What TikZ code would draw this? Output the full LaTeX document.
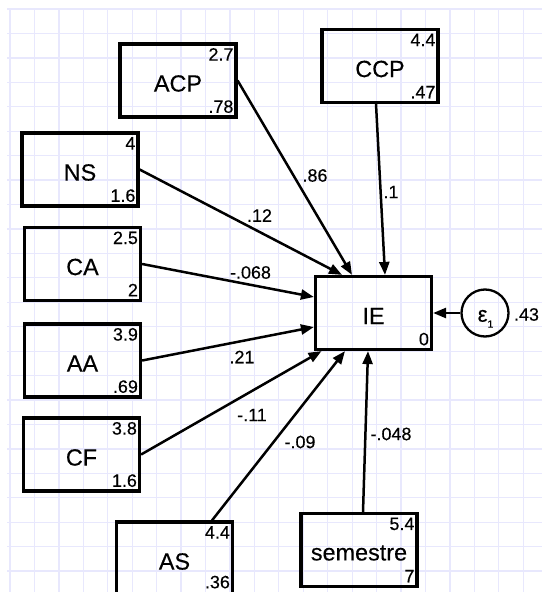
\documentclass[tikz,border=0pt]{standalone}
\usepackage{fontspec}
\setmainfont{Liberation Sans}[FakeBold=0.3]
\usetikzlibrary{arrows.meta,calc}
\definecolor{gridc}{RGB}{232,232,253}
\tikzset{
  gridline/.style={draw=gridc, line width=1.3bp},
  varbox/.style={draw, line width=3.2bp, minimum width=116bp, minimum height=73bp, inner sep=0},
  pathar/.style={line width=2.5bp, -{Triangle[length=13bp,width=10bp]}},
  num/.style={font=\fontsize{18}{18}\selectfont, inner sep=0},
  lab/.style={font=\fontsize{23.5}{23.5}\selectfont, inner sep=0},
}
\newcommand{\mybox}[6]{%
  \node[varbox] (#1) at (#2) {};
  \node[lab] (#1-l) at ([yshift=-3bp]#1.center) {#3};
  \node[num, anchor=east] (#1-t) at ([xshift=-4bp,yshift=-12bp]#1.north east) {#4};
  \node[num, anchor=east] (#1-b) at ([xshift=-4bp,yshift=#6]#1.south east) {#5};
}
\begin{document}
\begin{tikzpicture}[x=1bp,y=-1bp]
\clip (0,0) rectangle (542,592);
\useasboundingbox (0,0) rectangle (542,592);
% grid
\foreach \k in {0,...,21} \draw[gridline] ({10+24.44*\k},8) -- ({10+24.44*\k},592);
\foreach \k in {0,...,23} \draw[gridline] (7,{9+24.44*\k}) -- (542,{9+24.44*\k});
% boxes
\mybox{ACP}{178,80.5}{ACP}{2.7}{.78}{12bp}
\mybox{CCP}{380,66}{CCP}{4.4}{.47}{12bp}
\mybox{NS}{80,169.5}{NS}{4}{1.6}{12bp}
\mybox{CA}{82.5,264}{CA}{2.5}{2}{12bp}
\mybox{AA}{82.5,360.5}{AA}{3.9}{.69}{12bp}
\mybox{CF}{81.5,454.5}{CF}{3.8}{1.6}{12bp}
\mybox{AS}{174.5,558.5}{AS}{4.4}{.36}{14.5bp}
\mybox{sem}{359,550}{semestre}{5.4}{7}{12bp}
\node[varbox] (IE) at (373.5,313) {};
\node[lab] (IE-l) at ([yshift=-3bp]IE.center) {IE};
\node[num, anchor=east] (IE-b) at ([xshift=-4bp,yshift=12bp]IE.south east) {0};
% error term
\node[draw, circle, line width=2.3bp, minimum size=47bp, inner sep=0] (eps) at (485,313) {};
\node[inner sep=0, anchor=base west] (eps-l) at (477.5,321.7) {\fontsize{22}{22}\selectfont ε\raisebox{-6bp}{\fontsize{10.5}{10.5}\selectfont 1}};
\node[num] (eps-v) at (526.5,314.5) {.43};
% paths
\draw[pathar] (ACP.east) -- ([xshift=-21.5bp]IE.north);
\draw[pathar] ([xshift=-4bp]CCP.south) -- ([xshift=11.5bp]IE.north);
\draw[pathar] (NS.east) -- ([xshift=-31.5bp]IE.north);
\draw[pathar] (CA.east) -- ([yshift=16bp]IE.west);
\draw[pathar] (AA.east) -- ([yshift=-14bp]IE.west);
\draw[pathar] (CF.east) -- ([xshift=-52bp]IE.south);
\draw[pathar] ([xshift=37.5bp]AS.north) -- ([xshift=-28.5bp]IE.south);
\draw[pathar] ([xshift=4bp]sem.north) -- ([xshift=-5.5bp]IE.south);
\draw[pathar] (eps.west) -- (IE.east);
% coefficients
\node[num] (c-acp) at (315,175.5) {.86};
\node[num] (c-ccp) at (391,192) {.1};
\node[num] (c-ns) at (259.5,215.5) {.12};
\node[num] (c-ca) at (250.5,272.5) {-.068};
\node[num] (c-aa) at (242,357) {.21};
\node[num] (c-cf) at (252,415) {-.11};
\node[num] (c-as) at (300,442) {-.09};
\node[num] (c-sem) at (391,434) {-.048};
\end{tikzpicture}
\end{document}
